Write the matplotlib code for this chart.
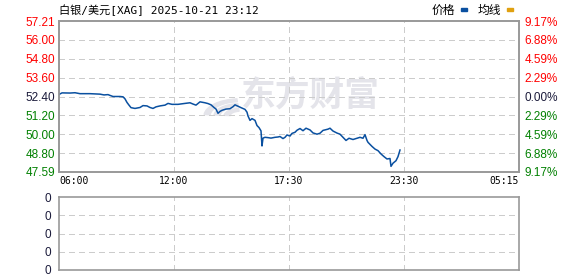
import matplotlib.pyplot as plt
from matplotlib.patches import Wedge

# minutes since 06:00 (session axis, 1380 = 05:15) and silver price
minutes = [0, 9, 33, 48, 63, 93, 123, 135, 147, 153, 162, 183, 192, 198, 204, 210, 216, 228,
           243, 252, 264, 273, 282, 291, 303, 318, 327, 339, 357, 378, 393, 402, 411, 423,
           438, 447, 456, 465, 471, 477, 483, 489, 501, 513, 522, 528, 537, 546, 558, 564,
           567, 573, 579, 588, 594, 600, 606, 609, 612, 618, 627, 636, 648, 657, 663, 672,
           678, 684, 693, 699, 708, 714, 723, 732, 741, 753, 762, 774, 783, 792, 807, 813,
           822, 834, 843, 852, 861, 870, 882, 894, 903, 912, 918, 924, 927, 939, 948, 957,
           966, 975, 984, 993, 996, 1002, 1011, 1017, 1023]
price = [52.53, 52.63, 52.62, 52.64, 52.58, 52.58, 52.55, 52.50, 52.52, 52.47, 52.40, 52.40,
         52.38, 52.25, 52.02, 51.85, 51.69, 51.64, 51.70, 51.82, 51.80, 51.70, 51.64, 51.74,
         51.80, 51.85, 51.96, 51.90, 51.90, 51.96, 52.00, 51.92, 51.85, 52.06, 52.00, 51.95,
         51.87, 51.70, 51.60, 51.33, 51.45, 51.52, 51.60, 51.62, 51.75, 51.87, 51.78, 51.69,
         51.58, 51.40, 51.16, 50.88, 50.99, 50.88, 50.55, 50.42, 50.21, 49.25, 49.75, 49.80,
         49.78, 49.75, 49.80, 49.82, 49.85, 49.72, 49.80, 49.95, 49.88, 50.05, 50.12, 50.25,
         50.36, 50.22, 50.38, 50.27, 50.08, 50.00, 50.06, 50.24, 50.32, 50.38, 50.20, 50.07,
         50.00, 49.80, 49.60, 49.74, 49.66, 49.74, 49.80, 49.74, 49.97, 49.60, 49.48, 49.22,
         49.05, 48.95, 48.74, 48.57, 48.42, 48.45, 47.95, 48.15, 48.31, 48.57, 48.99]

y_ticks = [57.21, 56.00, 54.80, 53.60, 52.40, 51.20, 50.00, 48.80, 47.59]
y_labels = ["57.21", "56.00", "54.80", "53.60", "52.40", "51.20", "50.00", "48.80", "47.59"]
pct_labels = ["9.17%", "6.88%", "4.59%", "2.29%", "0.00%", "2.29%", "4.59%", "6.88%", "9.17%"]
x_ticks = [0, 345, 690, 1035, 1380]
x_labels = ["06:00", "12:00", "17:30", "23:30", "05:15"]
base = 52.40

RED, GREEN, DARK = "#ff0000", "#008000", "#1a1a3a"
LINE = "#0a50a0"
GRID = "#cccccc"
WM = "#e4e4ea"

def lab_color(v):
    if abs(v - base) < 1e-6:
        return DARK
    return RED if v > base else GREEN

fig = plt.figure(figsize=(5.78, 2.76), dpi=100)
ax = fig.add_axes([59/578, 1-172/276, 460/578, 151/276])
ax2 = fig.add_axes([59/578, 1-270/276, 460/578, 73/276])

# watermark (behind everything)
fig.text(310/578, 1-95/276, "东方财富", fontsize=25, fontweight="bold", color=WM,
         family="Noto Sans CJK SC", ha="center", va="center", zorder=-5)
for r in (36, 26, 16):
    fig.add_artist(Wedge((240/578, 1-116/276), r/578, 95, 175, width=6/578,
                         color=WM, transform=fig.transFigure, zorder=-5))

ax.plot(minutes, price, color=LINE, lw=1.1, zorder=3)
ax.set_xlim(0, 1380)
ax.set_ylim(47.59, 57.21)
ax.set_facecolor("none")

ax.set_yticks(y_ticks)
ax.set_yticklabels(y_labels)
ax.set_xticks(x_ticks)
ax.set_xticklabels(x_labels)
ax.tick_params(length=0, pad=3)
for t, v in zip(ax.get_yticklabels(), y_ticks):
    t.set_color(lab_color(v))
    t.set_family("Liberation Sans")
    t.set_fontsize(8.5)
for i, t in enumerate(ax.get_xticklabels()):
    t.set_family("DejaVu Sans Mono")
    t.set_fontsize(7)
    t.set_ha(["left", "center", "center", "center", "right"][i])

axr = ax.twinx()
axr.set_ylim(47.59, 57.21)
axr.set_yticks(y_ticks)
axr.set_yticklabels(pct_labels)
axr.tick_params(length=0, pad=4)
for t, v in zip(axr.get_yticklabels(), y_ticks):
    t.set_color(lab_color(v))
    t.set_family("Liberation Sans")
    t.set_fontsize(8.5)

for a in (ax, ax2, axr):
    for s in a.spines.values():
        s.set_color("#999999")
        s.set_linewidth(1.2)

grid_kw = dict(color=GRID, ls=(0, (4, 3)), lw=1, antialiased=False, zorder=1)
for v in y_ticks[1:-1]:
    ax.axhline(v, **grid_kw)
for m in x_ticks[1:-1]:
    ax.axvline(m, **grid_kw)

# volume panel (empty)
ax2.set_xlim(0, 1380)
ax2.set_ylim(0, 4)
ax2.set_yticks([0, 1, 2, 3, 4])
ax2.set_yticklabels(["0"] * 5)
ax2.set_xticks([])
ax2.tick_params(length=0, pad=6)
for t in ax2.get_yticklabels():
    t.set_color(DARK)
    t.set_family("Liberation Sans")
    t.set_fontsize(8.5)
for v in [1, 2, 3]:
    ax2.axhline(v, **grid_kw)
for m in x_ticks[1:-1]:
    ax2.axvline(m, **grid_kw)

# header
fig.text(59/578, 1-10/276, "白银/美元[XAG] 2025-10-21 23:12", fontsize=8,
         family=["DejaVu Sans Mono", "Noto Sans CJK SC"], va="center", ha="left")
fig.text(432/578, 1-10/276, "价格", fontsize=8.5, family="Noto Sans CJK SC", va="center")
fig.text(478/578, 1-10/276, "均线", fontsize=8.5, family="Noto Sans CJK SC", va="center")
fig.add_artist(plt.Rectangle((461/578, 1-11/276), 6/578, 3/276, color="#0a50a0",
                             transform=fig.transFigure))
fig.add_artist(plt.Rectangle((507/578, 1-11/276), 6/578, 3/276, color="#e0a010",
                             transform=fig.transFigure))

fig.savefig("out.png", dpi=100)
